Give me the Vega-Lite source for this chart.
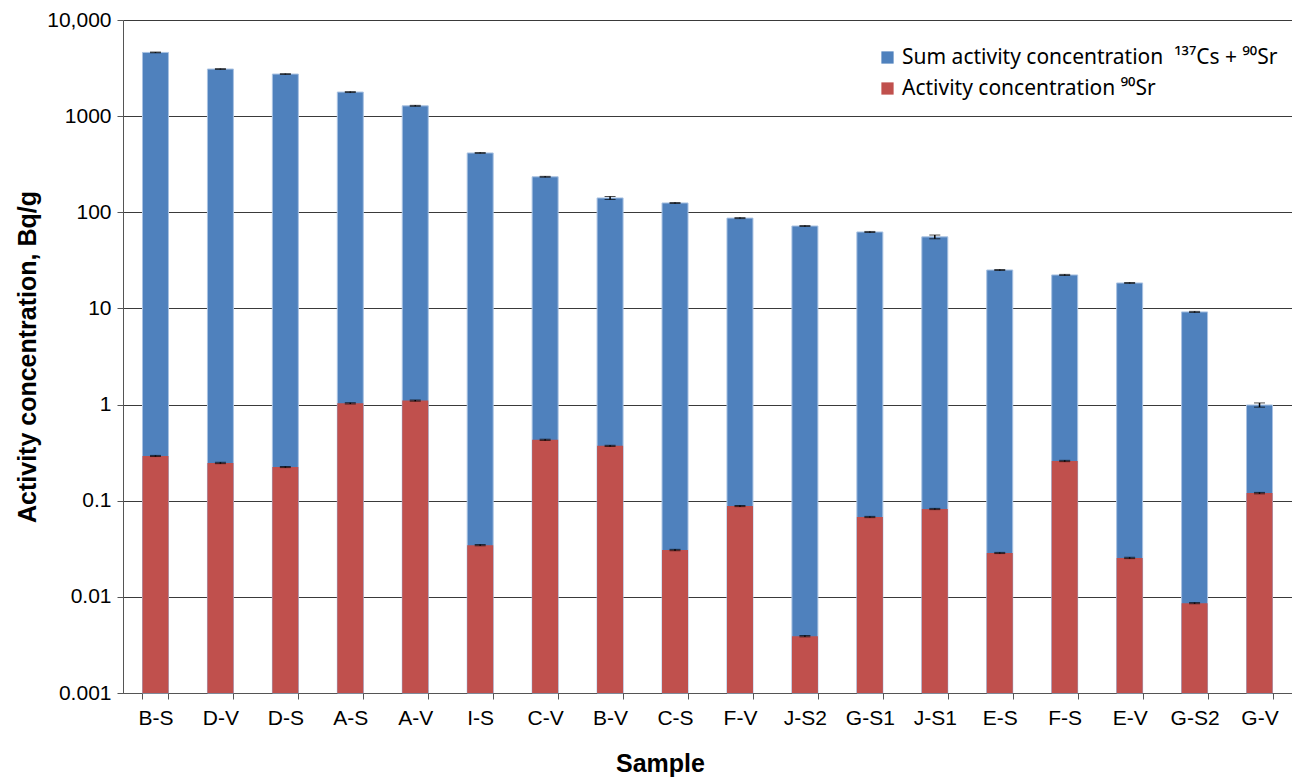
{
  "$schema": "https://vega.github.io/schema/vega-lite/v6.json",
  "autosize": "none",
  "padding": {"left": 123, "top": 20, "right": 0, "bottom": 86},
  "width": 1169,
  "height": 673,
  "background": "white",
  "config": {
    "font": "Liberation Sans",
    "view": {"stroke": null},
    "axis": {"labelFont": "Liberation Sans", "titleFont": "Liberation Sans", "labelColor": "#000", "titleColor": "#000"}
  },
  "data": {
    "values": [
      {"sample": "B-S", "total": 4600, "total_err": 40, "sr": 0.292, "sr_err": 0.004},
      {"sample": "D-V", "total": 3090, "total_err": 30, "sr": 0.247, "sr_err": 0.004},
      {"sample": "D-S", "total": 2740, "total_err": 25, "sr": 0.224, "sr_err": 0.003},
      {"sample": "A-S", "total": 1780, "total_err": 20, "sr": 1.03, "sr_err": 0.015},
      {"sample": "A-V", "total": 1280, "total_err": 15, "sr": 1.1, "sr_err": 0.015},
      {"sample": "I-S", "total": 414, "total_err": 4, "sr": 0.0345, "sr_err": 0.0005},
      {"sample": "C-V", "total": 234, "total_err": 2.5, "sr": 0.43, "sr_err": 0.006},
      {"sample": "B-V", "total": 141, "total_err": 5, "sr": 0.372, "sr_err": 0.005},
      {"sample": "C-S", "total": 125, "total_err": 1.5, "sr": 0.0307, "sr_err": 0.0005},
      {"sample": "F-V", "total": 87, "total_err": 1, "sr": 0.088, "sr_err": 0.0012},
      {"sample": "J-S2", "total": 72, "total_err": 0.8, "sr": 0.0039, "sr_err": 0.00006},
      {"sample": "G-S1", "total": 62.4, "total_err": 0.8, "sr": 0.0677, "sr_err": 0.001},
      {"sample": "J-S1", "total": 55.5, "total_err": 2.5, "sr": 0.082, "sr_err": 0.0012},
      {"sample": "E-S", "total": 25.1, "total_err": 0.3, "sr": 0.0286, "sr_err": 0.0004},
      {"sample": "F-S", "total": 22.3, "total_err": 0.3, "sr": 0.259, "sr_err": 0.004},
      {"sample": "E-V", "total": 18.4, "total_err": 0.2, "sr": 0.0254, "sr_err": 0.0004},
      {"sample": "G-S2", "total": 9.2, "total_err": 0.12, "sr": 0.0086, "sr_err": 0.00012},
      {"sample": "G-V", "total": 0.99, "total_err": 0.05, "sr": 0.12, "sr_err": 0.002}
    ]
  },
  "encoding": {
    "x": {
      "field": "sample", "type": "nominal", "sort": null,
      "scale": {"paddingInner": 0.6, "paddingOuter": 0.3},
      "axis": {
        "title": "Sample", "titleFontSize": 25, "titleFontWeight": "bold",
        "titleX": 537, "titleY": 58, "titleAnchor": "middle",
        "labelAngle": 0, "labelFontSize": 21, "labelPadding": 8,
        "tickBand": "extent", "tickSize": 6, "tickColor": "#555", "domainColor": "#555",
        "grid": false
      }
    }
  },
  "layer": [
    {
      "mark": {"type": "bar", "stroke": "#a9c2e2", "strokeWidth": 1},
      "encoding": {
        "y": {
          "field": "total", "type": "quantitative", "title": "Activity concentration, Bq/g",
          "scale": {"type": "log", "domain": [0.001, 10000]},
          "axis": {
            "title": "Activity concentration, Bq/g", "titleFontSize": 25, "titleFontWeight": "bold", "titlePadding": 6,
            "values": [0.001, 0.01, 0.1, 1, 10, 100, 1000, 10000],
            "labelExpr": "datum.value >= 10000 ? '10,000' : datum.value >= 1 ? format(datum.value, 'd') : format(datum.value, '')",
            "labelFontSize": 21, "labelPadding": 6, "tickSize": 6, "tickColor": "#555", "domainColor": "#555",
            "grid": true, "gridColor": "#3a3a3a", "gridWidth": 1
          }
        },
        "y2": {"datum": 0.001},
        "color": {
          "datum": "Sum activity concentration\u00a0\u00a0¹³⁷Cs + ⁹⁰Sr",
          "type": "nominal",
          "scale": {"domain": ["Sum activity concentration\u00a0\u00a0¹³⁷Cs + ⁹⁰Sr", "Activity concentration ⁹⁰Sr"], "range": ["#4F81BD", "#C0504D"]},
          "legend": {
            "title": null, "orient": "none", "legendX": 754, "legendY": 27,
            "symbolType": "square", "symbolSize": 150, "symbolStrokeWidth": 0,
            "labelFontSize": 21, "labelFont": "Noto Sans", "labelColor": "#000", "labelLimit": 600, "labelOffset": 4,
            "rowPadding": 9, "padding": 0
          }
        }
      }
    },
    {
      "mark": {"type": "errorbar", "ticks": {"size": 11, "color": "#000", "strokeWidth": 2.5}, "rule": {"color": "#000", "strokeWidth": 1.5}},
      "encoding": {
        "y": {"field": "total", "type": "quantitative", "title": "Activity concentration, Bq/g"},
        "yError": {"field": "total_err"}
      }
    },
    {
      "mark": {"type": "bar"},
      "encoding": {
        "y": {"field": "sr", "type": "quantitative", "title": "Activity concentration, Bq/g"},
        "y2": {"datum": 0.001},
        "color": {"datum": "Activity concentration ⁹⁰Sr", "type": "nominal"}
      }
    },
    {
      "mark": {"type": "errorbar", "ticks": {"size": 11, "color": "#000", "strokeWidth": 2.5}, "rule": {"color": "#000", "strokeWidth": 1.5}},
      "encoding": {
        "y": {"field": "sr", "type": "quantitative", "title": "Activity concentration, Bq/g"},
        "yError": {"field": "sr_err"}
      }
    }
  ]
}
